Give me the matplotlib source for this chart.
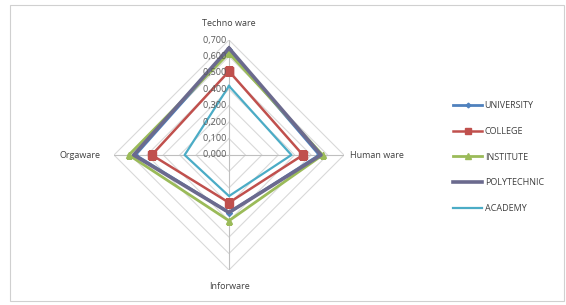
import numpy as np
import matplotlib
matplotlib.use("Agg")
import matplotlib.pyplot as plt
from matplotlib.patches import Rectangle

categories = ["Techno ware", "Human ware", "Inforware", "Orgaware"]
series_names = ["UNIVERSITY", "COLLEGE", "INSTITUTE", "POLYTECHNIC", "ACADEMY"]
university = [0.64, 0.55, 0.35, 0.57]
college = [0.51, 0.45, 0.29, 0.47]
institute = [0.62, 0.57, 0.40, 0.61]
polytechnic = [0.65, 0.56, 0.35, 0.58]
academy = [0.42, 0.38, 0.25, 0.27]
tick_values = [0.0, 0.1, 0.2, 0.3, 0.4, 0.5, 0.6, 0.7]
tick_labels = ["0,000", "0,100", "0,200", "0,300", "0,400", "0,500", "0,600", "0,700"]

series = [university, college, institute, polytechnic, academy]
colors = ["#4F81BD", "#C0504D", "#9BBB59", "#6B6A8E", "#4BACC6"]
markers = ["D", "s", "^", None, None]
msizes = [3, 6, 5, 0, 0]
lws = [2.0, 1.8, 2.0, 2.6, 1.6]

plt.rcParams['font.family'] = ['Open Sans', 'DejaVu Sans']

W, H = 566, 305
fig = plt.figure(figsize=(W / 100, H / 100), dpi=100)
fig.patch.set_facecolor("white")

# chart border
fig.patches.append(Rectangle((10 / W, 4 / H), 554 / W, 296 / H, transform=fig.transFigure,
                             fill=False, edgecolor="#D0D0D0", lw=0.8))

cx, cy, R = 229, 155, 115
ax = fig.add_axes([(cx - R) / W, (H - cy - R) / H, 2 * R / W, 2 * R / H], projection="polar")
ax.set_theta_zero_location("N")
ax.set_theta_direction(-1)
ax.set_ylim(0, 0.7)
ax.grid(False)
ax.spines["polar"].set_visible(False)
ax.set_xticks([])
ax.set_yticks([])
ax.patch.set_alpha(0)

n = len(categories)
theta = np.arange(n) * 2 * np.pi / n
theta_c = np.append(theta, theta[0])

# diamond gridlines
for v in tick_values[1:]:
    ax.plot(theta_c, [v] * (n + 1), color="#D9D9D9", lw=0.8, zorder=1)
# spokes
for t in theta:
    ax.plot([t, t], [0, 0.7], color="#BFBFBF", lw=0.8, zorder=1)

for vals, name, c, m, ms, lw in zip(series, series_names, colors, markers, msizes, lws):
    v = np.append(vals, vals[0])
    ax.plot(theta_c, v, color=c, lw=lw, marker=m, markersize=ms, label=name, zorder=3)

# radial tick labels
for v, lab in zip(tick_values, tick_labels):
    ax.text(0, v, lab + " ", ha="right", va="center", fontsize=6.5, color="#595959", zorder=4)

# category labels
pads = [0.10, 0.037, 0.10, 0.085]
for t, lab, p in zip(theta, categories, pads):
    ha = "center"
    if np.isclose(t, np.pi / 2):
        ha = "left"
    elif np.isclose(t, 3 * np.pi / 2):
        ha = "right"
    ax.text(t, 0.7 + p, lab, ha=ha, va="center", fontsize=6.5, color="#404040")

handles, labels = ax.get_legend_handles_labels()
fig.legend(handles, labels, loc="center left", bbox_to_anchor=(445 / W, 1 - 157 / H),
           frameon=False, fontsize=6.5, labelcolor="#404040", handlelength=3.2,
           labelspacing=1.85, handletextpad=0.3, markerscale=0.8)

fig.savefig("out.png", dpi=100, facecolor="white")
